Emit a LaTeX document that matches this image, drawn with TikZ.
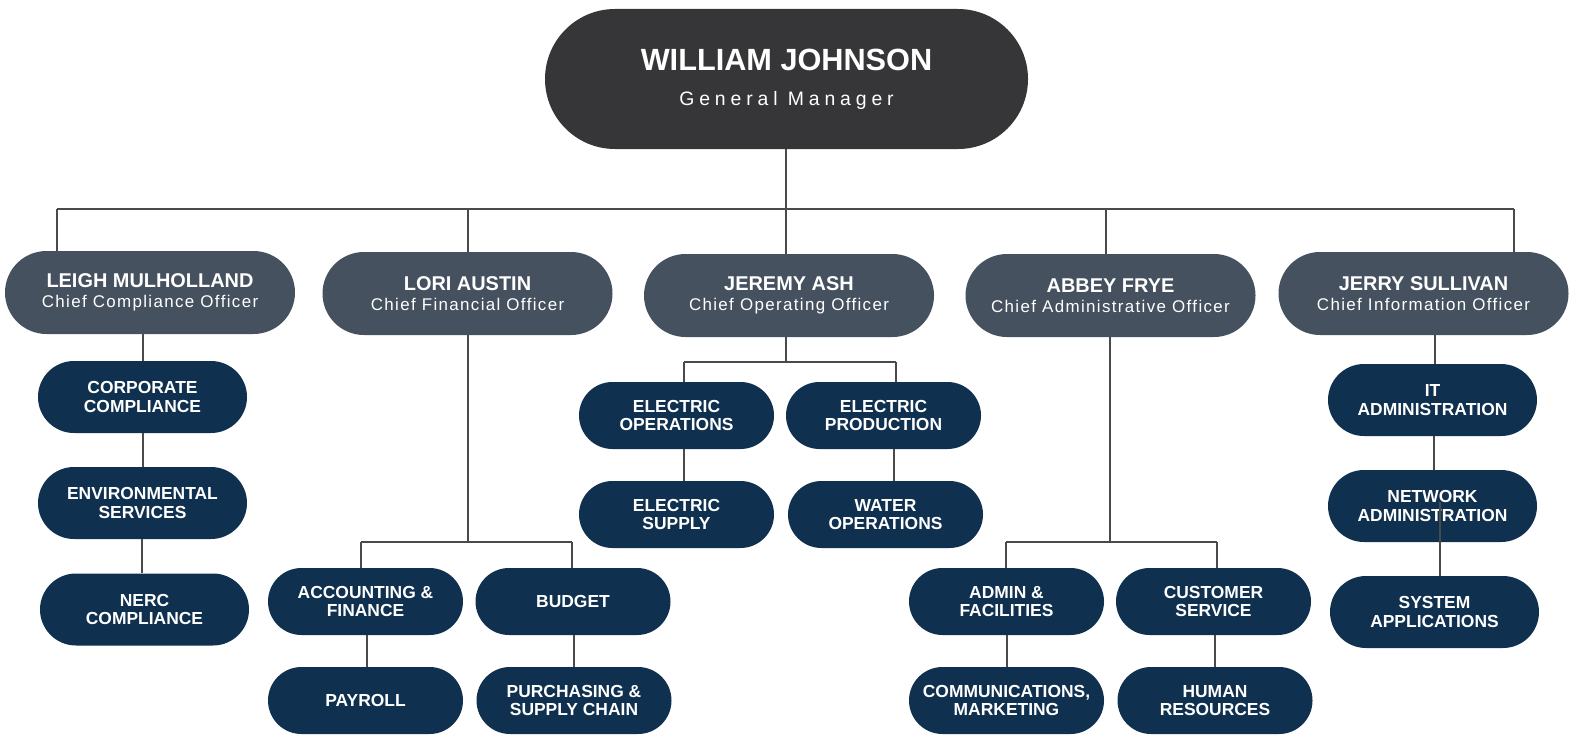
\documentclass[tikz,border=0pt]{standalone}
\usepackage{fontspec}
\setmainfont{Liberation Sans}
\newfontfamily\gmsub[LetterSpace=25]{Liberation Sans}
\newfontfamily\exsub[LetterSpace=8]{Liberation Sans}
\definecolor{gmcol}{HTML}{363638}
\definecolor{execcol}{HTML}{45515F}
\definecolor{deptcol}{HTML}{10304F}
\definecolor{linecol}{HTML}{4A4A4A}
\begin{document}
\begin{tikzpicture}[x={(0.5bp,0)}, y={(0,-0.5bp)},
  every node/.style={inner sep=0pt, align=center, text=white},
  gmbox/.style={fill=gmcol, minimum width=241.5bp, minimum height=70bp, rounded corners=35bp,
    font=\fontsize{15.4}{17.5}\selectfont\bfseries},
  execbox/.style={fill=execcol, minimum width=145bp, minimum height=41.5bp, rounded corners=20.75bp,
    font=\fontsize{10}{10.3}\selectfont\bfseries},
  deptA/.style={fill=deptcol, minimum width=104.5bp, minimum height=36bp, rounded corners=18bp,
    font=\fontsize{8.75}{9.3}\selectfont\bfseries},
  deptB/.style={fill=deptcol, minimum width=97.5bp, minimum height=33.5bp, rounded corners=16.75bp,
    font=\fontsize{8.75}{9.3}\selectfont\bfseries},
  topline/.style={draw=linecol, line width=1bp},
  subline/.style={draw=linecol, line width=0.75bp}]
\useasboundingbox (0,0) rectangle (1575,736);

% nodes
\node[gmbox] (gm) at (786.5,79) {WILLIAM JOHNSON\\{\fontsize{9.75}{17.5}\selectfont\mdseries\gmsub General Manager}};

\node[execbox] (leigh) at (150,292.5) {LEIGH MULHOLLAND\\{\fontsize{8.5}{10.3}\selectfont\mdseries\exsub Chief Compliance Officer}};
\node[execbox] (lori) at (467.5,293.5) {LORI AUSTIN\\{\fontsize{8.5}{10.3}\selectfont\mdseries\exsub Chief Financial Officer}};
\node[execbox] (jeremy) at (789,295.5) {JEREMY ASH\\{\fontsize{8.5}{10.3}\selectfont\mdseries\exsub Chief Operating Officer}};
\node[execbox] (abbey) at (1110.5,295.5) {ABBEY FRYE\\{\fontsize{8.5}{10.3}\selectfont\mdseries\exsub Chief Administrative Officer}};
\node[execbox] (jerry) at (1423.5,293.5) {JERRY SULLIVAN\\{\fontsize{8.5}{10.3}\selectfont\mdseries\exsub Chief Information Officer}};

\node[deptA] (cc) at (142.5,397) {CORPORATE\\COMPLIANCE};
\node[deptA] (es) at (142.5,503) {ENVIRONMENTAL\\SERVICES};
\node[deptA] (nerc) at (144.5,609.5) {NERC\\COMPLIANCE};

\node[deptB] (acct) at (365.5,601.5) {ACCOUNTING \&\\FINANCE};
\node[deptB] (budget) at (573,601.5) {BUDGET};
\node[deptB] (payroll) at (365.5,700.5) {PAYROLL};
\node[deptB] (purch) at (574,700.5) {PURCHASING \&\\SUPPLY CHAIN};

\node[deptB] (eo) at (676.5,415.5) {ELECTRIC\\OPERATIONS};
\node[deptB] (ep) at (883.5,415.5) {ELECTRIC\\PRODUCTION};
\node[deptB] (esup) at (676.5,514.5) {ELECTRIC\\SUPPLY};
\node[deptB] (wo) at (885.5,514.5) {WATER\\OPERATIONS};

\node[deptB] (af) at (1006.5,601.5) {ADMIN \&\\FACILITIES};
\node[deptB] (cs) at (1213.5,601.5) {CUSTOMER\\SERVICE};
\node[deptB] (cm) at (1006.5,700.5) {COMMUNICATIONS,\\MARKETING};
\node[deptB] (hr) at (1215,700.5) {HUMAN\\RESOURCES};

\node[deptA] (it) at (1432.5,400) {IT\\ADMINISTRATION};
\node[deptA] (net) at (1432.5,506) {NETWORK\\ADMINISTRATION};
\node[deptA] (sys) at (1434.5,612) {SYSTEM\\APPLICATIONS};

% connectors: top level
\coordinate (bus) at (786,209);
\coordinate (b1) at (57,209);
\coordinate (b2) at (468,209);
\coordinate (b4) at (1106,209);
\coordinate (b5) at (1514,209);
\draw[topline] (gm.south -| bus) -- (bus);
\draw[topline] (b1) -- (b5);
\draw[topline] (b1) -- (b1 |- leigh.north);
\draw[topline] (b2) -- (b2 |- lori.north);
\draw[topline] (bus) -- (bus |- jeremy.north);
\draw[topline] (b4) -- (b4 |- abbey.north);
\draw[topline] (b5) -- (b5 |- jerry.north);

% Leigh column
\coordinate (lx) at (143,0);
\draw[subline] (leigh.south -| lx) -- (cc.north -| lx);
\draw[subline] (cc.south -| lx) -- (es.north -| lx);
\coordinate (lx2) at (142,0);
\draw[subline] (es.south -| lx2) -- (nerc.north -| lx2);

% Lori column
\coordinate (lo) at (468,542);
\coordinate (lo1) at (361,542);
\coordinate (lo2) at (572,542);
\draw[subline] (lori.south -| lo) -- (lo);
\draw[subline] (lo1) -- (lo2);
\draw[subline] (lo1) -- (lo1 |- acct.north);
\draw[subline] (lo2) -- (lo2 |- budget.north);
\coordinate (px) at (367,0);
\draw[subline] (acct.south -| px) -- (payroll.north -| px);
\coordinate (bx) at (574,0);
\draw[subline] (budget.south -| bx) -- (purch.north -| bx);

% Jeremy column
\coordinate (je) at (786,362);
\coordinate (je1) at (684,362);
\coordinate (je2) at (896,362);
\draw[subline] (jeremy.south -| je) -- (je);
\draw[subline] (je1) -- (je2);
\draw[subline] (je1) -- (je1 |- eo.north);
\draw[subline] (je2) -- (je2 |- ep.north);
\coordinate (ex1) at (684,0);
\draw[subline] (eo.south -| ex1) -- (esup.north -| ex1);
\coordinate (ex2) at (894,0);
\draw[subline] (ep.south -| ex2) -- (wo.north -| ex2);

% Abbey column
\coordinate (ab) at (1110,542);
\coordinate (ab1) at (1006,542);
\coordinate (ab2) at (1217,542);
\draw[subline] (abbey.south -| ab) -- (ab);
\draw[subline] (ab1) -- (ab2);
\draw[subline] (ab1) -- (ab1 |- af.north);
\draw[subline] (ab2) -- (ab2 |- cs.north);
\coordinate (ax1) at (1007,0);
\draw[subline] (af.south -| ax1) -- (cm.north -| ax1);
\coordinate (ax2) at (1215,0);
\draw[subline] (cs.south -| ax2) -- (hr.north -| ax2);

% Jerry column
\coordinate (jx) at (1435,0);
\draw[subline] (jerry.south -| jx) -- (it.north -| jx);
\coordinate (jx2) at (1434,0);
\draw[subline] (it.south -| jx2) -- (net.north -| jx2);
\coordinate (ns) at (1440,502);
\draw[subline] (ns) -- (ns |- sys.north);
\end{tikzpicture}
\end{document}
